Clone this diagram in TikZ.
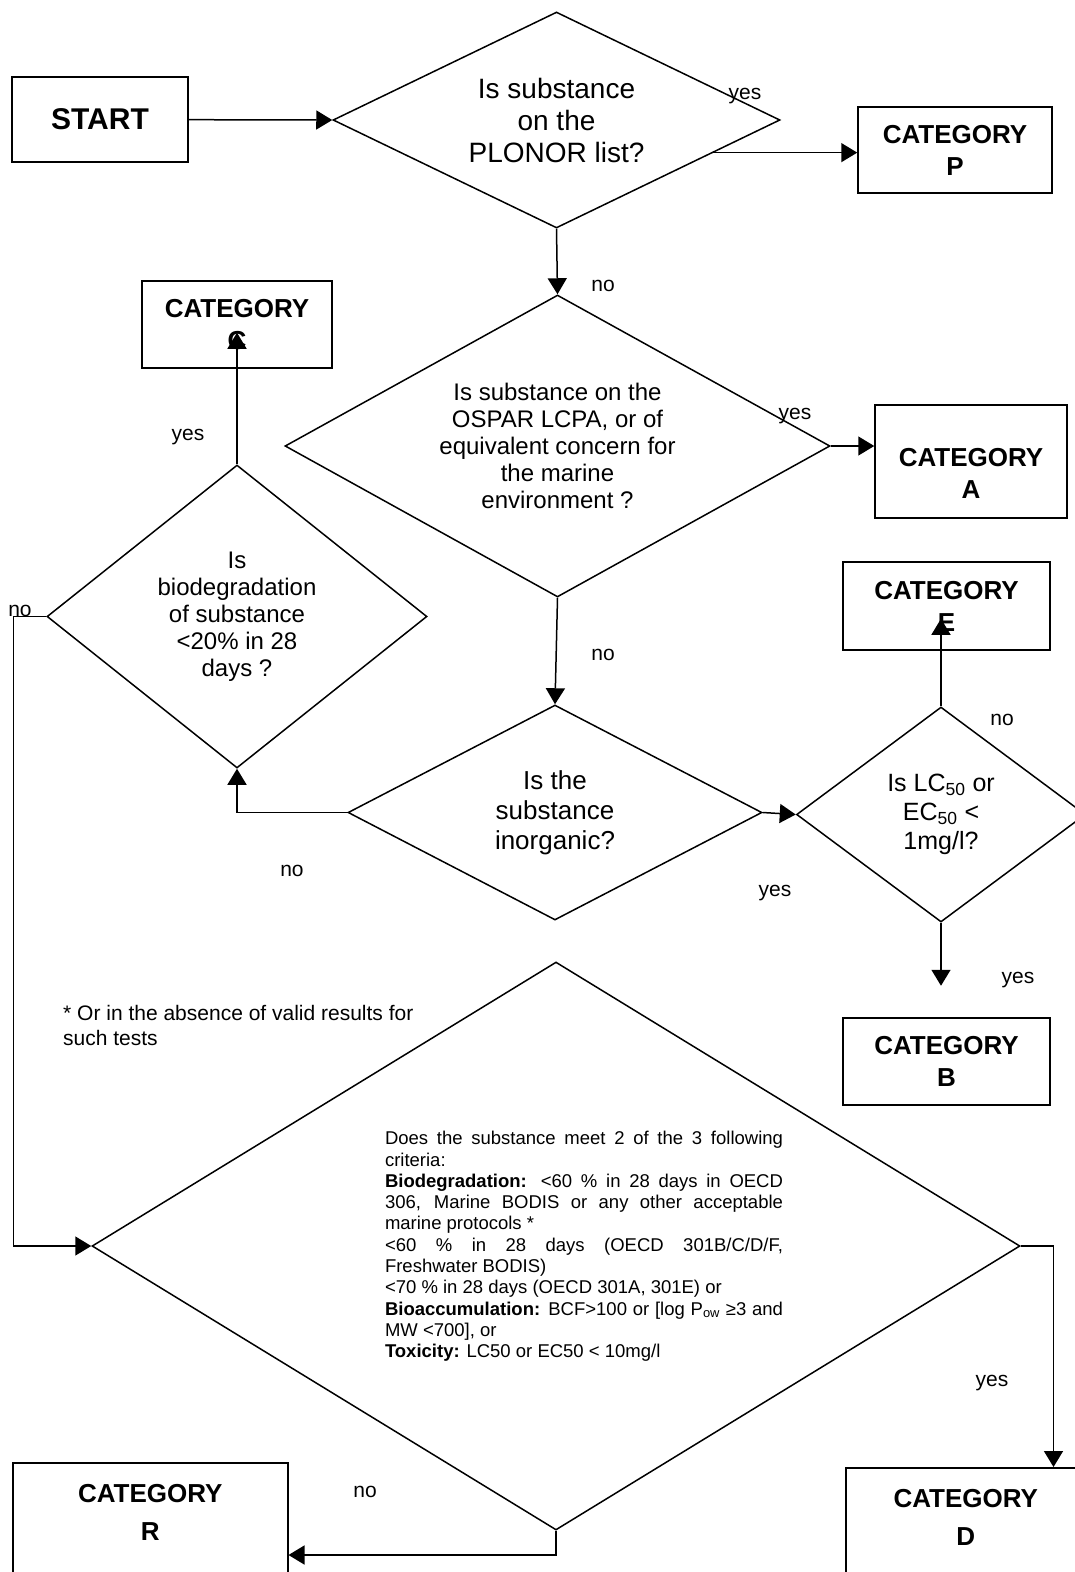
\documentclass[tikz,border=0pt]{standalone}
\usepackage{fontspec}
\setmainfont{Liberation Sans}
\usetikzlibrary{arrows.meta,positioning,calc,shapes.geometric}

\begin{document}
\begin{tikzpicture}[
  x=1pt,y=-1pt,
  cbox/.style={rectangle,draw,line width=1.5pt,align=center,inner sep=0pt,font=\fontsize{26}{32}\selectfont\bfseries},
  ctxt/.style={align=center,inner sep=0pt,anchor=north,font=\fontsize{26}{32}\selectfont\bfseries},
  qbox/.style={diamond,draw,line width=1.5pt,align=center,inner sep=0pt},
  arr/.style={-{Triangle[length=16pt,width=19pt]},line width=1.5pt},
  lbl/.style={inner sep=0pt,yshift=-3pt,font=\fontsize{21}{24}\selectfont}
]
\useasboundingbox (0,0) rectangle (1075,1572);
\clip (0,0) rectangle (1075,1572);

\node[cbox,minimum width=176pt,minimum height=85pt,font=\fontsize{30}{34}\selectfont\bfseries] (start) at (100,119.5) {START};
\node[qbox,minimum width=447pt,minimum height=216pt,aspect=2.07,font=\fontsize{28}{32}\selectfont] (plonor) at (556.5,120) {Is substance\\on the\\PLONOR list?};
\node[cbox,minimum width=194pt,minimum height=86pt] (catP) at (955,150) {CATEGORY\\P};

\node[qbox,minimum width=545pt,minimum height=302pt,aspect=1.8,font=\fontsize{24}{27}\selectfont] (ospar) at (557.5,446) {Is substance on the\\OSPAR LCPA, or of\\equivalent concern for\\the marine\\environment ?};
\node[cbox,minimum width=192pt,minimum height=113pt,
  label={[ctxt,yshift=-44pt]north:{CATEGORY\\A}}] (catA) at (971,461.5) {};

\node[qbox,minimum width=414pt,minimum height=215pt,aspect=1.93,font=\fontsize{26}{30}\selectfont] (inorg) at (555,812.5) {Is the\\substance\\inorganic?};
\node[qbox,minimum width=289pt,minimum height=215pt,aspect=1.34,font=\fontsize{25}{29}\selectfont] (lc) at (941,814.5) {Is LC\textsubscript{50} or\\EC\textsubscript{50} <\\1mg/l?};
\node[cbox,minimum width=207pt,minimum height=88pt] (catE) at (946.5,606) {CATEGORY\\E};
\node[cbox,minimum width=207pt,minimum height=87pt] (catB) at (946.5,1061.5) {CATEGORY\\B};

\node[qbox,minimum width=380pt,minimum height=303pt,aspect=1.25,font=\fontsize{24}{27}\selectfont] (bio) at (237,616.5) {Is\\biodegradation\\of substance\\<20\% in 28\\days ?};
\node[cbox,minimum width=190pt,minimum height=87pt] (catC) at (237,324.5) {CATEGORY\\C};

\node[qbox,minimum width=928pt,minimum height=568pt,aspect=1.63] (crit) at (556,1246) {};
\node[inner sep=0pt,text width=398pt,align=justify,font={\fontsize{18.5}{21.3}\selectfont\hyphenpenalty10000\exhyphenpenalty10000\spaceskip=.278em plus .4em}] (crittx) at (584,1246.5) {Does the substance meet 2 of the 3 following criteria:\\
\textbf{Biodegradation:} <60 \% in 28 days in OECD 306, Marine BODIS or any other acceptable marine protocols *\\
<60 \% in 28 days (OECD 301B/C/D/F, Freshwater BODIS)\\
<70 \% in 28 days (OECD 301A, 301E) or\\
\textbf{Bioaccumulation:} BCF>100 or [log P\textsubscript{ow} ≥3 and MW <700], or\\
\textbf{Toxicity:} LC50 or EC50 < 10mg/l};

\node[inner sep=0pt,anchor=north west,align=left,font=\fontsize{21}{25}\selectfont] (note) at (63,1005) {* Or in the absence of valid results for\\such tests};

\node[cbox,anchor=north west,minimum width=275pt,minimum height=200pt,
  label={[ctxt,yshift=-22pt,font=\fontsize{26}{38}\selectfont\bfseries]north:{CATEGORY\\R}}] (catR) at (12,1462) {};
\node[cbox,anchor=north west,minimum width=240pt,minimum height=200pt,
  label={[ctxt,yshift=-22pt,font=\fontsize{26}{38}\selectfont\bfseries]north:{CATEGORY\\D}}] (catD) at (845,1467) {};

\node[lbl] (yes1) at (745,93) {yes};
\node[lbl] (no1) at (603,283) {no};
\node[lbl] (yes2) at (795,413) {yes};
\node[lbl] (no2) at (603,652) {no};
\node[lbl] (yes3) at (188,434) {yes};
\node[lbl] (no3) at (20,608) {no};
\node[lbl] (no4) at (1002,717) {no};
\node[lbl] (yes4) at (775,890) {yes};
\node[lbl] (no5) at (292,868) {no};
\node[lbl] (yes5) at (1018,977) {yes};
\node[lbl] (yes6) at (992,1380) {yes};
\node[lbl] (no6) at (365,1489) {no};

\coordinate (p1) at ($(plonor.east)!0.3!(plonor.south)$);
\draw[arr] (start) -- (plonor.west);
\draw[arr] (p1) -- (p1 -| catP.west);
\draw[arr] (plonor.south) -- (ospar.north);
\draw[arr] (ospar.east) -- (ospar.east -| catA.west);
\draw[arr] (ospar.south) -- (inorg.north);
\draw[arr] (inorg.east) -- (lc.west);
\draw[arr] (inorg.west) -| (bio.south);
\draw[arr] (bio.north) -- ($(catC.south)+(0,-36)$);
\draw[arr] (lc.north) -- ($(lc.north |- catE.south)+(0,-32)$);
\draw[arr] (lc.south) -- ++(0,63);
\draw[arr] (bio.west) -- ++(-33,0) |- (crit.west);
\draw[arr] (crit.east) -| ($(catD.north east)+(-33,0)$);
\draw[arr] (crit.south) |- ($(catR.north east)+(0,93)$);
\end{tikzpicture}
\end{document}
